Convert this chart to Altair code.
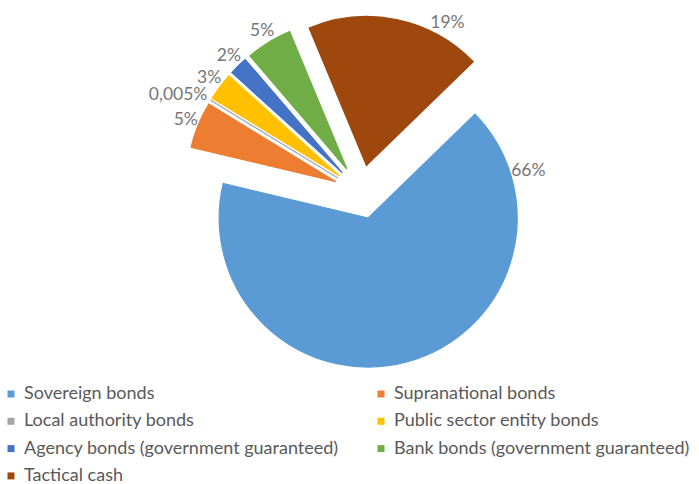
import math
import altair as alt
import pandas as pd

# ---- data ----
categories = [
    "Sovereign bonds",
    "Supranational bonds",
    "Local authority bonds",
    "Public sector entity bonds",
    "Agency bonds (government guaranteed)",
    "Bank bonds  (government guaranteed)",
    "Tactical cash",
]
shares = [66, 5, 0.005, 3, 2, 5, 19]
labels = ["66%", "5%", "0,005%", "3%", "2%", "5%", "19%"]

# ---- style ----
colors = ["#5B9BD5", "#ED7D31", "#A5A5A5", "#FFC000", "#4472C4", "#70AD47", "#9E480E"]
label_shift_deg = [-91, 0, -4, 0, 0, 0, 18]  # manually moved data labels
FONT = "Lato"
START = 45.8 * math.pi / 180  # first slice angle
CX, CY = 361, 192            # pie centre
R = 149                      # radius
D = 27                       # explosion distance

df = pd.DataFrame({
    "category": categories,
    "share": shares,
    "label": labels,
    "order": list(range(len(categories))),
    "shift": label_shift_deg,
})

base = (
    alt.Chart(df)
    .transform_joinaggregate(total="sum(share)")
    .transform_window(cum="sum(share)", sort=[alt.SortField("order")], frame=[None, 0])
    .transform_calculate(
        t0=f"{START} + 2*PI*(datum.cum - datum.share)/datum.total",
        t1=f"{START} + 2*PI*datum.cum/datum.total",
        mid="(datum.t0 + datum.t1)/2",
        cx=f"{CX} + {D}*sin(datum.mid)",
        cy=f"{CY} - {D}*cos(datum.mid)",
        la="datum.mid + datum.shift*PI/180",
        w="length(datum.label)*9.8",
        ld=f"{R} + 2 + abs(sin(datum.la))*datum.w/2 + abs(cos(datum.la))*6.5",
        lx="datum.cx + datum.ld*sin(datum.la)",
        ly="datum.cy - datum.ld*cos(datum.la)",
    )
)

color_scale = alt.Scale(domain=categories, range=colors)

arcs = base.mark_arc(outerRadius=R, innerRadius=0, strokeWidth=1.2).encode(
    x=alt.X("cx:Q", scale=None, axis=None),
    y=alt.Y("cy:Q", scale=None, axis=None),
    theta=alt.Theta("t0:Q", scale=None, stack=None),
    theta2="t1:Q",
    color=alt.Color(
        "category:N",
        scale=color_scale,
        legend=alt.Legend(
            orient="none",
            direction="horizontal",
            legendX=2,
            legendY=385,
            columns=2,
            title=None,
            symbolType="square",
            symbolSize=49,
            symbolStrokeWidth=0,
            labelFont=FONT,
            labelFontSize=18,
            labelColor="#595959",
            labelLimit=600,
            labelOffset=4,
            columnPadding=33,
            rowPadding=9.3,
            padding=0,
        ),
    ),
    stroke=alt.Stroke("category:N", scale=color_scale, legend=None),
)

texts = base.mark_text(
    font=FONT, fontSize=17.5, color="#767676", align="center", baseline="middle"
).encode(
    x=alt.X("lx:Q", scale=None, axis=None),
    y=alt.Y("ly:Q", scale=None, axis=None),
    text="label:N",
)

chart = (
    alt.layer(arcs, texts)
    .properties(width=699, height=484, padding=0, autosize="none")
    .configure_view(stroke=None)
)

chart.save("out.html", embed_options={"renderer": "svg", "actions": False})
